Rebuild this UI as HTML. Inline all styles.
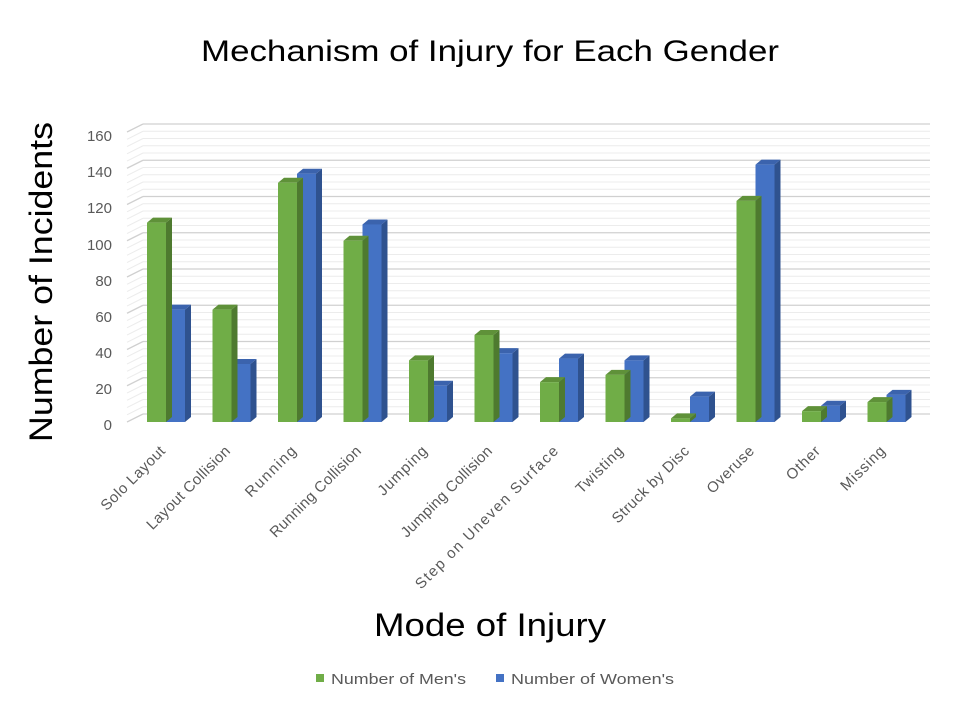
<!DOCTYPE html>
<html><head><meta charset="utf-8"><style>
html,body{margin:0;padding:0;background:#fff;}
svg{display:block;font-family:"Liberation Sans",sans-serif;}
</style></head><body>
<svg id="s" width="980" height="709" viewBox="0 0 980 709">
<g id="grid"></g>
<g id="bars"></g>
<text x="490" y="61" font-size="30" text-anchor="middle" fill="#000" textLength="578" lengthAdjust="spacingAndGlyphs">Mechanism of Injury for Each Gender</text>
<text transform="translate(52,282) rotate(-90)" font-size="32" text-anchor="middle" fill="#000" textLength="320" lengthAdjust="spacingAndGlyphs">Number of Incidents</text>
<text x="490" y="636" font-size="32" text-anchor="middle" fill="#000" textLength="232" lengthAdjust="spacingAndGlyphs">Mode of Injury</text>
<g font-size="15" fill="#595959" text-anchor="end">
<text x="112" y="141">160</text><text x="112" y="177">140</text><text x="112" y="213">120</text><text x="112" y="250">100</text><text x="112" y="286">80</text><text x="112" y="322">60</text><text x="112" y="358">40</text><text x="112" y="394">20</text><text x="112" y="430">0</text>
</g>
<g font-size="15" fill="#595959" text-anchor="end" lengthAdjust="spacingAndGlyphs">
<text transform="translate(166,452) rotate(-45)" textLength="84">Solo Layout</text>
<text transform="translate(231,452) rotate(-45)" textLength="111">Layout Collision</text>
<text transform="translate(297,452) rotate(-45)" textLength="65">Running</text>
<text transform="translate(362,452) rotate(-45)" textLength="122">Running Collision</text>
<text transform="translate(428,452) rotate(-45)" textLength="63">Jumping</text>
<text transform="translate(493,452) rotate(-45)" textLength="122">Jumping Collision</text>
<text transform="translate(559,452) rotate(-45)" textLength="195">Step on Uneven Surface</text>
<text transform="translate(624,452) rotate(-45)" textLength="60">Twisting</text>
<text transform="translate(690,452) rotate(-45)" textLength="102">Struck by Disc</text>
<text transform="translate(755,452) rotate(-45)" textLength="60">Overuse</text>
<text transform="translate(821,452) rotate(-45)" textLength="41">Other</text>
<text transform="translate(886,452) rotate(-45)" textLength="56">Missing</text>
</g>
<rect x="316" y="674" width="8" height="8" fill="#70ad47"/>
<text x="331" y="684" font-size="15" fill="#595959" textLength="135" lengthAdjust="spacingAndGlyphs">Number of Men's</text>
<rect x="496" y="674" width="8" height="8" fill="#4472c4"/>
<text x="511" y="684" font-size="15" fill="#595959" textLength="163" lengthAdjust="spacingAndGlyphs">Number of Women's</text>
</svg>
<script>
(function(){
var ns="http://www.w3.org/2000/svg";
function el(p,t,a){var e=document.createElementNS(ns,t);for(var k in a)e.setAttribute(k,a[k]);p.appendChild(e);return e;}
var g=document.getElementById('grid'),b=document.getElementById('bars');
var base=422,sc=1.8125,dx=16,dy=8;
for(var v=0;v<=160;v+=4){
  var yb=414-v*sc, major=(v%20==0);
  var c=major?"#d0d0d0":"#ececec", w=major?1.3:1;
  el(g,'line',{x1:143,y1:yb,x2:930,y2:yb,stroke:c,'stroke-width':w});
  el(g,'line',{x1:127,y1:yb+dy,x2:143,y2:yb,stroke:c,'stroke-width':w});
}
var men=[110,62,132,100,34,48,22,26,2,122,6,11];
var wom=[62,32,137,109,20,38,35,34,14,142,9,15];
function bar(x,v,f,side,top){
  var h=v*sc,y=base-h,w=19,d=6,u=5;
  el(b,'polygon',{points:[x+w,y,x+w+d,y-u,x+w+d,base-u,x+w,base].join(' '),fill:side});
  el(b,'polygon',{points:[x,y,x+d,y-u,x+w+d,y-u,x+w,y].join(' '),fill:top});
  el(b,'rect',{x:x,y:y,width:w,height:h,fill:f});
}
for(var i=0;i<12;i++){
  var x=147+i*65.5;
  bar(x+19,wom[i],"#4472c4","#2f528f","#3b63ad");
  bar(x,men[i],"#70ad47","#4e7a2f","#5f9139");
}
})();
</script>
</body></html>
